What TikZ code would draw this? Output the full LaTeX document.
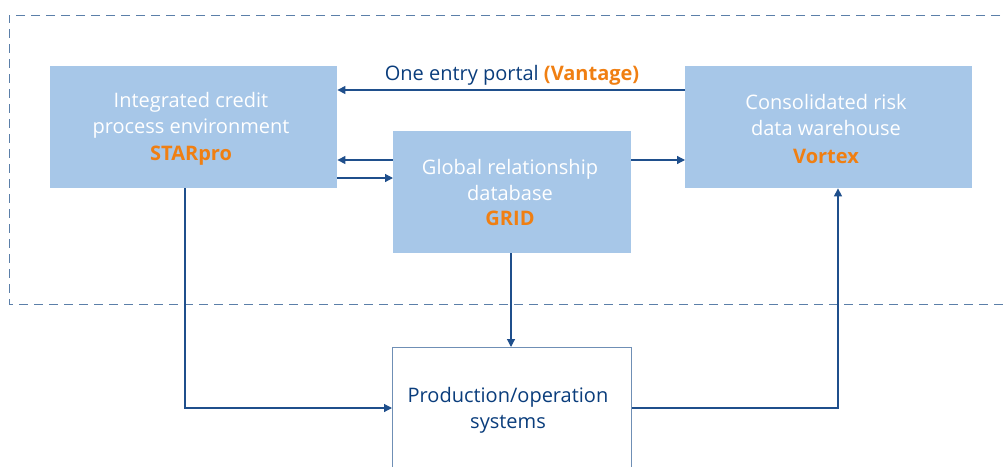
\documentclass[tikz,border=0pt]{standalone}
\usepackage{fontspec}
\setmainfont{Open Sans}
\usetikzlibrary{arrows.meta}
\definecolor{boxfill}{HTML}{A7C7E8}
\definecolor{orng}{HTML}{F07F12}
\definecolor{dblue}{HTML}{0A3D7C}
\definecolor{lineblue}{HTML}{1F4F8C}
\definecolor{dashblue}{HTML}{5B7FA9}
\definecolor{prodedge}{HTML}{6F8FB5}
\tikzset{
  box/.style={fill=boxfill, draw=none, minimum width=287pt, minimum height=122pt, inner sep=0pt, anchor=north west},
  txt/.style={text=white, font=\fontsize{20}{26}\selectfont, align=center, inner sep=0pt},
  org/.style={text=orng, font=\fontsize{20}{26}\selectfont\bfseries, inner sep=0pt},
  dtxt/.style={text=dblue, font=\fontsize{20}{26}\selectfont, align=center, inner sep=0pt},
  conn/.style={draw=lineblue, line width=1.2pt, -{Triangle[length=8pt,width=8pt]}},
  frame/.style={draw=dashblue, line width=1pt, dash pattern=on 9pt off 6pt}
}
\begin{document}
\begin{tikzpicture}[x=1pt,y=-1pt]
\useasboundingbox (0,0) rectangle (1003,466);
\clip (0,0) rectangle (1003,466);
% dashed frame
\draw[frame] (1015,15) -- (9,15) -- (9,304) -- (1015,304);
% boxes
\node[box] (starpro) at (50,66) {};
\node[box, minimum width=238pt] (grid) at (393,131) {};
\node[box] (vortex) at (685,66) {};
\node[draw=prodedge, line width=1pt, fill=white, minimum width=239pt, minimum height=140pt, inner sep=0pt, anchor=north west] (prod) at (392,347) {};
% texts
\node[txt] (starT) at (191,115) {Integrated credit\\process environment};
\node[org] (starL) at (191,156) {STARpro};
\node[txt] (gridT) at (510,180) {Global relationship\\database};
\node[org] (gridL) at (510,218) {GRID};
\node[txt] (vortT) at (826,115) {Consolidated risk\\data warehouse};
\node[org] (vortL) at (826,156) {Vortex};
\node[dtxt] (prodT) at (508,410) {Production/operation\\systems};
\node[inner sep=0pt, font=\fontsize{20}{26}\selectfont] (vlabel) at (512,75) {\textcolor{dblue}{One entry portal} \textcolor{orng}{\bfseries(Vantage)}};
% helper coordinates
\coordinate (y90) at (0,90);
\coordinate (y160) at (0,160);
\coordinate (y178) at (0,178);
\coordinate (y408) at (0,408);
\coordinate (x185) at (185,0);
\coordinate (x838) at (838,0);
\coordinate (x511) at (511,0);
% connectors
\draw[conn] (vortex.west |- y90) -- (starpro.east |- y90);
\draw[conn] (grid.west |- y160) -- (starpro.east |- y160);
\draw[conn] (starpro.east |- y178) -- (grid.west |- y178);
\draw[conn] (grid.east |- y160) -- (vortex.west |- y160);
\draw[conn] (grid.south -| x511) -- (prod.north -| x511);
\draw[conn] (starpro.south -| x185) |- (prod.west |- y408);
\draw[conn] (prod.east |- y408) -| (vortex.south -| x838);
\end{tikzpicture}
\end{document}
